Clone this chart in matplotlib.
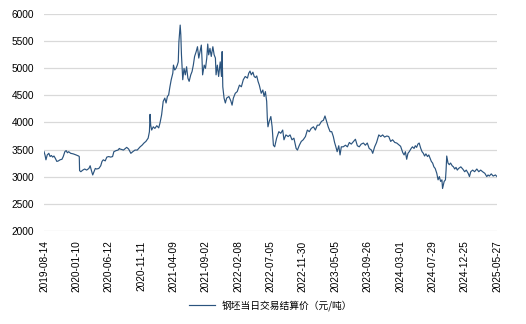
import matplotlib
matplotlib.use("Agg")
import matplotlib.pyplot as plt
from matplotlib.ticker import FixedLocator, NullLocator

plt.rcParams['font.family'] = ['Liberation Sans', 'Noto Sans CJK SC', 'DejaVu Sans']

# Trading-session number (counted from 2019-08-14) and daily settlement price
session = [
    0, 3, 6, 10, 15, 19, 23, 27, 31, 35, 40, 45, 50, 56, 60, 65, 69, 73, 77, 83,
    91, 100, 108, 110, 111, 115, 121, 127, 133, 140, 144, 148, 152, 156, 160, 164, 171, 177, 181, 185,
    191, 196, 202, 208, 214, 218, 225, 231, 235, 237, 248, 258, 264, 271, 277, 284, 291, 300, 306, 312,
    318, 325, 329, 331, 333, 336, 341, 346, 352, 358, 362, 367, 372, 377, 381, 385, 389, 393, 397, 402,
    404, 408, 412, 416, 419, 421, 425, 427, 429, 433, 437, 441, 445, 449, 453, 458, 462, 466, 470, 475,
    479, 483, 487, 491, 493, 495, 500, 504, 508, 511, 514, 518, 522, 527, 531, 535, 537, 541, 545, 550,
    554, 556, 558, 562, 566, 570, 577, 583, 587, 591, 597, 603, 610, 616, 622, 628, 635, 639, 643, 647,
    652, 656, 660, 664, 668, 672, 678, 683, 687, 691, 695, 697, 699, 703, 708, 712, 716, 720, 726, 733,
    739, 745, 749, 755, 762, 768, 774, 780, 787, 791, 797, 803, 809, 816, 822, 828, 834, 841, 847, 853,
    859, 866, 872, 877, 882, 887, 893, 898, 903, 907, 911, 915, 920, 924, 928, 934, 941, 947, 953, 959,
    966, 972, 978, 984, 990, 997, 1003, 1009, 1015, 1022, 1026, 1032, 1038, 1045, 1051, 1057, 1063, 1070, 1076, 1082,
    1088, 1095, 1101, 1107, 1113, 1120, 1124, 1128, 1132, 1136, 1140, 1146, 1150, 1155, 1159, 1163, 1167, 1171, 1176, 1180,
    1184, 1188, 1192, 1197, 1201, 1205, 1209, 1213, 1217, 1221, 1226, 1230, 1234, 1238, 1242, 1244, 1249, 1253, 1255, 1257,
    1261, 1265, 1269, 1274, 1278, 1282, 1286, 1290, 1294, 1301, 1307, 1313, 1318, 1324, 1328, 1332, 1338, 1344, 1351, 1357,
    1363, 1369, 1376, 1382, 1386, 1390, 1396, 1402, 1409, 1414,
]
price = [
    3460, 3400, 3310, 3400, 3430, 3370, 3390, 3360, 3380, 3340, 3280, 3290, 3310, 3320, 3370, 3460, 3480, 3440, 3460, 3430,
    3420, 3400, 3380, 3370, 3110, 3090, 3120, 3140, 3120, 3150, 3200, 3110, 3030, 3090, 3150, 3140, 3150, 3200, 3280, 3310,
    3290, 3360, 3370, 3360, 3370, 3460, 3480, 3490, 3520, 3510, 3490, 3540, 3510, 3430, 3460, 3490, 3490, 3550, 3580, 3620,
    3650, 3710, 3830, 4150, 3950, 3860, 3920, 3890, 3940, 3900, 3990, 4140, 4390, 4450, 4360, 4480, 4510, 4660, 4790, 4910,
    5060, 4970, 5000, 5060, 5120, 5490, 5800, 5620, 5250, 4790, 5000, 4880, 5030, 4820, 4760, 4880, 4940, 5060, 5220, 5310,
    5400, 5190, 5310, 5430, 5190, 4880, 5060, 5000, 5190, 5450, 5250, 5370, 5220, 5400, 5250, 5190, 4880, 5060, 4850, 5120,
    4850, 5310, 4660, 4450, 4360, 4450, 4480, 4400, 4320, 4450, 4540, 4570, 4690, 4660, 4790, 4850, 4820, 4910, 4950, 4880,
    4930, 4850, 4830, 4860, 4760, 4690, 4540, 4600, 4480, 4570, 4390, 4080, 3920, 4020, 4110, 3920, 3580, 3550, 3710, 3830,
    3800, 3860, 3680, 3770, 3740, 3770, 3680, 3710, 3520, 3490, 3580, 3650, 3680, 3740, 3860, 3830, 3890, 3920, 3860, 3950,
    3950, 4020, 4040, 4120, 4020, 3920, 3830, 3830, 3740, 3630, 3550, 3460, 3570, 3400, 3550, 3550, 3580, 3550, 3630, 3600,
    3650, 3690, 3570, 3550, 3600, 3620, 3580, 3620, 3520, 3490, 3430, 3550, 3630, 3770, 3740, 3770, 3730, 3750, 3740, 3650,
    3680, 3630, 3620, 3590, 3560, 3440, 3400, 3460, 3320, 3430, 3460, 3520, 3550, 3520, 3570, 3540, 3600, 3620, 3520, 3460,
    3430, 3380, 3420, 3370, 3400, 3340, 3280, 3250, 3180, 3150, 3060, 2940, 3000, 2910, 2940, 2780, 2910, 2940, 3120, 3380,
    3250, 3220, 3250, 3200, 3180, 3140, 3170, 3120, 3150, 3180, 3140, 3090, 3120, 3060, 3000, 3090, 3120, 3090, 3140, 3090,
    3120, 3090, 3060, 3000, 3030, 3010, 3050, 3010, 3030, 3000,
]

tick_labels = [
    "2019-08-14", "2020-01-10", "2020-06-12", "2020-11-11", "2021-04-09",
    "2021-09-02", "2022-02-08", "2022-07-05", "2022-11-30", "2023-05-05",
    "2023-09-26", "2024-03-01", "2024-07-29", "2024-12-25", "2025-05-27",
]
y_ticks = [2000, 2500, 3000, 3500, 4000, 4500, 5000, 5500, 6000]
series_name = "钢坯当日交易结算价（元/吨）"

fig = plt.figure(figsize=(5.26, 3.24), dpi=100)
ax = fig.add_axes([0.0837, 0.288, 0.8612, 0.668])

ax.plot(session, price, color="#2b547e", linewidth=0.85, label=series_name)

n_ticks = len(tick_labels)
last = session[-1]
tick_pos = [last * i / (n_ticks - 1) for i in range(n_ticks)]
ax.set_xlim(0, last)
ax.xaxis.set_major_locator(FixedLocator(tick_pos))
ax.set_xticklabels(tick_labels, rotation=90, fontsize=7.3)
ax.xaxis.set_minor_locator(NullLocator())

ax.set_ylim(2000, 6000)
ax.set_yticks(y_ticks)
ax.set_yticklabels([str(v) for v in y_ticks], fontsize=7.3)

ax.tick_params(axis="both", length=0, pad=7, colors="#000000")
ax.grid(axis="y", color="#d9d9d9", linewidth=0.9)
ax.set_axisbelow(True)
for sp in ax.spines.values():
    sp.set_visible(False)

ax.legend(loc="center", bbox_to_anchor=(0.5, -0.347), frameon=False,
          handlelength=2.6, handletextpad=0.7,
          prop={"family": ["Noto Sans CJK SC", "DejaVu Sans"], "size": 7})

fig.savefig("out.png", dpi=100, facecolor="white")
